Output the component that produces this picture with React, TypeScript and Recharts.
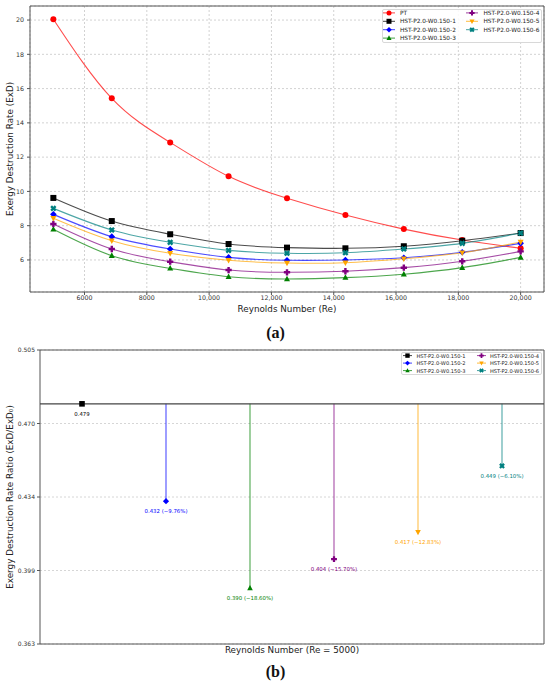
// Exergy destruction rate vs Reynolds number (a) and ratio stems at Re = 5000 (b)

import React from 'react';
import {
  LineChart,
  Line,
  ComposedChart,
  Bar,
  Scatter,
  LabelList,
  XAxis,
  YAxis,
  CartesianGrid,
  ReferenceArea,
  ReferenceLine,
  Label
} from 'recharts';

const FONT = '"DejaVu Sans", Verdana, sans-serif';

// ---- (a) data ----
const reynolds = [5000, 6875, 8750, 10625, 12500, 14375, 16250, 18125, 20000];
const ptExd = [20.05, 15.43, 12.86, 10.88, 9.6, 8.62, 7.8, 7.16, 6.68];
const hst1Exd = [9.62, 8.27, 7.5, 6.93, 6.72, 6.68, 6.8, 7.12, 7.57];
const hst2Exd = [8.66, 7.36, 6.64, 6.15, 5.98, 6.0, 6.13, 6.45, 6.97];
const hst3Exd = [7.79, 6.25, 5.51, 5.02, 4.89, 4.97, 5.17, 5.55, 6.15];
const hst4Exd = [8.1, 6.64, 5.9, 5.41, 5.28, 5.34, 5.55, 5.92, 6.5];
const hst5Exd = [8.43, 7.12, 6.39, 5.98, 5.82, 5.84, 6.07, 6.42, 7.05];
const hst6Exd = [9.01, 7.75, 7.03, 6.56, 6.39, 6.42, 6.64, 6.97, 7.57];

const reTicks = [6000, 8000, 10000, 12000, 14000, 16000, 18000, 20000];
const exdTicks = [6, 8, 10, 12, 14, 16, 18, 20];
const RE_DOMAIN: [number, number] = [4250, 20750];
const EXD_DOMAIN: [number, number] = [4.13, 20.82];

// ---- (b) data ----
const designNames = [
  'HST-P2.0-W0.150-1',
  'HST-P2.0-W0.150-2',
  'HST-P2.0-W0.150-3',
  'HST-P2.0-W0.150-4',
  'HST-P2.0-W0.150-5',
  'HST-P2.0-W0.150-6'
];
const designPos = [1, 2, 3, 4, 5, 6];
const ratioValues = [0.479, 0.432, 0.39, 0.404, 0.417, 0.449];
const ratioChange = [null, -9.76, -18.6, -15.7, -12.83, -6.1];
const baselineRatio = 0.479;
const ratioTicks = [0.363, 0.3985, 0.434, 0.4695, 0.505];
const ratioTickLabels = ['0.363', '0.399', '0.434', '0.470', '0.505'];
const RATIO_DOMAIN: [number, number] = [0.363, 0.505];

type MarkerKind = 'circle' | 'square' | 'diamond' | 'tri' | 'plus' | 'tridown' | 'x';

interface SeriesDef {
  key: string;
  name: string;
  color: string;
  marker: MarkerKind;
}

const SERIES: SeriesDef[] = [
  { key: 'pt', name: 'PT', color: '#ff0000', marker: 'circle' },
  { key: 'h1', name: designNames[0], color: '#000000', marker: 'square' },
  { key: 'h2', name: designNames[1], color: '#0000ff', marker: 'diamond' },
  { key: 'h3', name: designNames[2], color: '#008000', marker: 'tri' },
  { key: 'h4', name: designNames[3], color: '#800080', marker: 'plus' },
  { key: 'h5', name: designNames[4], color: '#ffa500', marker: 'tridown' },
  { key: 'h6', name: designNames[5], color: '#008080', marker: 'x' }
];

const exdRows = reynolds.map((re, i) => ({
  re,
  pt: ptExd[i],
  h1: hst1Exd[i],
  h2: hst2Exd[i],
  h3: hst3Exd[i],
  h4: hst4Exd[i],
  h5: hst5Exd[i],
  h6: hst6Exd[i]
}));

const ratioRows = designPos.map((pos, i) => ({
  pos,
  ratio: ratioValues[i],
  stem: [ratioValues[i], baselineRatio]
}));

function markerShape(kind: MarkerKind, x: number, y: number, s: number, color: string) {
  const h = s / 2;
  switch (kind) {
    case 'circle':
      return <circle cx={x} cy={y} r={h} fill={color} />;
    case 'square':
      return <rect x={x - h} y={y - h} width={s} height={s} fill={color} />;
    case 'diamond': {
      const d = h * 1.1;
      return <polygon points={`${x},${y - d} ${x + d},${y} ${x},${y + d} ${x - d},${y}`} fill={color} />;
    }
    case 'tri':
      return <polygon points={`${x},${y - h * 1.1} ${x + h},${y + h * 0.75} ${x - h},${y + h * 0.75}`} fill={color} />;
    case 'tridown':
      return <polygon points={`${x},${y + h * 1.1} ${x + h},${y - h * 0.75} ${x - h},${y - h * 0.75}`} fill={color} />;
    case 'plus':
    case 'x': {
      const a = h * 1.05;
      const t = a / 2.6;
      const pts = [
        [-t, -a], [t, -a], [t, -t], [a, -t], [a, t], [t, t],
        [t, a], [-t, a], [-t, t], [-a, t], [-a, -t], [-t, -t]
      ];
      const rot = kind === 'x' ? Math.PI / 4 : 0;
      const str = pts
        .map(([px, py]) => {
          const rx = px * Math.cos(rot) - py * Math.sin(rot);
          const ry = px * Math.sin(rot) + py * Math.cos(rot);
          return `${x + rx},${y + ry}`;
        })
        .join(' ');
      return <polygon points={str} fill={color} />;
    }
  }
  return null;
}

interface LegendProps {
  entries: SeriesDef[];
  left: number;
  top: number;
  width: number;
  height: number;
  rows: number;
  rowStart: number;
  rowGap: number;
  colHandle: number[];
  colText: number[];
  fontSize: number;
  markerSize: number;
  handleLen: number;
}

function BoxLegend(p: LegendProps) {
  return (
    <div
      style={{
        position: 'absolute',
        left: p.left,
        top: p.top,
        width: p.width,
        height: p.height,
        border: '1px solid #d8d8d8',
        borderRadius: 2,
        background: 'rgba(255,255,255,0.85)',
        boxSizing: 'border-box'
      }}
    >
      <svg width={p.width} height={p.height} style={{ position: 'absolute', left: -1, top: -1, overflow: 'visible' }}>
        {p.entries.map((e, i) => {
          const col = Math.floor(i / p.rows);
          const row = i % p.rows;
          const cx = p.colHandle[col];
          const cy = p.rowStart + row * p.rowGap;
          return (
            <g key={e.key}>
              <line x1={cx - p.handleLen / 2} x2={cx + p.handleLen / 2} y1={cy} y2={cy} stroke={e.color} strokeOpacity={0.75} strokeWidth={1} />
              {markerShape(e.marker, cx, cy, p.markerSize, e.color)}
              <text x={p.colText[col]} y={cy} dominantBaseline="central" fontSize={p.fontSize} fontFamily={FONT} fill="#222">
                {e.name}
              </text>
            </g>
          );
        })}
      </svg>
    </div>
  );
}

const tickStyle = { fontSize: 6.3, fill: '#333', fontFamily: FONT };

function formatRe(v: number): string {
  return v < 10000 ? String(v) : v.toLocaleString('en-US');
}

function rotatedLabel(text: string, x: number) {
  return (props: any) => {
    const vb = props.viewBox || {};
    const cy = vb.y + vb.height / 2;
    return (
      <text
        x={x}
        y={cy}
        transform={`rotate(-90 ${x} ${cy})`}
        textAnchor="middle"
        dominantBaseline="central"
        fontSize={8.8}
        fontFamily={FONT}
        fill="#222"
      >
        {text}
      </text>
    );
  };
}

function bottomLabel(text: string, dy: number) {
  return (props: any) => {
    const vb = props.viewBox || {};
    return (
      <text
        x={vb.x + vb.width / 2}
        y={vb.y + dy}
        textAnchor="middle"
        dominantBaseline="central"
        fontSize={8.8}
        fontFamily={FONT}
        fill="#222"
      >
        {text}
      </text>
    );
  };
}

function ExdChart() {
  return (
    <LineChart width={550} height={320} data={exdRows} margin={{ top: 6, right: 6, left: 0, bottom: 0 }}>
      <CartesianGrid strokeDasharray="2 2" stroke="#d2d2d2" />
      <XAxis
        dataKey="re"
        type="number"
        domain={RE_DOMAIN}
        ticks={reTicks}
        allowDataOverflow
        tickFormatter={formatRe}
        tick={tickStyle}
        tickSize={3}
        tickMargin={1}
        height={28}
        axisLine={false}
        tickLine={{ stroke: '#555' }}
      >
        <Label content={bottomLabel('Reynolds Number (Re)', 17)} />
      </XAxis>
      <YAxis
        type="number"
        domain={EXD_DOMAIN}
        ticks={exdTicks}
        allowDataOverflow
        tick={tickStyle}
        tickSize={3}
        tickMargin={3}
        width={30}
        axisLine={false}
        tickLine={{ stroke: '#555' }}
      >
        <Label content={rotatedLabel('Exergy Destruction Rate (ExD)', 10)} />
      </YAxis>
      {SERIES.map((s) => (
        <Line
          key={s.key}
          dataKey={s.key}
          name={s.name}
          type="natural"
          stroke={s.color}
          strokeOpacity={0.7}
          strokeWidth={1.1}
          isAnimationActive={false}
          activeDot={false}
          dot={(p: any) => (
            <g key={`${s.key}-${p.index}`}>{markerShape(s.marker, p.cx, p.cy, 6, s.color)}</g>
          )}
        />
      ))}
      <ReferenceArea
        x1={RE_DOMAIN[0]}
        x2={RE_DOMAIN[1]}
        y1={EXD_DOMAIN[0]}
        y2={EXD_DOMAIN[1]}
        fill="none"
        fillOpacity={0}
        stroke="#555"
        strokeWidth={1}
        ifOverflow="visible"
      />
    </LineChart>
  );
}

function RatioChart() {
  const hst = SERIES.slice(1);
  return (
    <ComposedChart width={550} height={357} data={ratioRows} margin={{ top: 20, right: 6, left: 0, bottom: 0 }}>
      <CartesianGrid strokeDasharray="2 2" stroke="#d6d6d6" vertical={false} />
      <XAxis
        dataKey="pos"
        type="number"
        domain={[0.5, 6.5]}
        ticks={designPos}
        allowDataOverflow
        tick={false}
        tickLine={false}
        axisLine={false}
        height={43}
      >
        <Label content={bottomLabel('Reynolds Number (Re = 5000)', 6)} />
      </XAxis>
      <YAxis
        type="number"
        domain={RATIO_DOMAIN}
        ticks={ratioTicks}
        allowDataOverflow
        tickFormatter={(_v: number, i: number) => ratioTickLabels[i]}
        tick={{ ...tickStyle, fontSize: 6 }}
        tickSize={3}
        tickMargin={2}
        width={40}
        axisLine={false}
        tickLine={{ stroke: '#555' }}
      >
        <Label content={rotatedLabel('Exergy Destruction Rate Ratio (ExD/ExD\u2080)', 10)} />
      </YAxis>
      <ReferenceLine y={baselineRatio} stroke="#444" strokeWidth={1.1} />
      {/* stems: range bars from each ratio up to the baseline, drawn as thin lines */}
      <Bar
        dataKey="stem"
        barSize={2}
        isAnimationActive={false}
        shape={(p: any) => {
          const i = p.index;
          const s = hst[i];
          const x = p.x + p.width / 2;
          return (
            <line
              x1={x}
              x2={x}
              y1={p.y}
              y2={p.y + p.height}
              stroke={s.color}
              strokeOpacity={0.7}
              strokeWidth={1.1}
            />
          );
        }}
      />
      <Scatter
        dataKey="ratio"
        isAnimationActive={false}
        shape={(p: any) => {
          const s = hst[p.payload.pos - 1];
          return <g>{markerShape(s.marker, p.cx, p.cy, 5.6, s.color)}</g>;
        }}
      >
        <LabelList
          dataKey="ratio"
          content={(p: any) => {
            const i = p.index;
            const s = hst[i];
            const cx = p.x + p.width / 2;
            const cy = p.y + p.height / 2;
            const ch = ratioChange[i];
            const txt =
              ch === null
                ? ratioValues[i].toFixed(3)
                : `${ratioValues[i].toFixed(3)} (\u2212${Math.abs(ch).toFixed(2)}%)`;
            return (
              <text
                key={`lbl-${i}`}
                x={cx}
                y={cy + 10}
                textAnchor="middle"
                dominantBaseline="central"
                fontSize={5.4}
                fontFamily={FONT}
                fill={s.color}
              >
                {txt}
              </text>
            );
          }}
        />
      </Scatter>
      <ReferenceArea
        x1={0.5}
        x2={6.5}
        y1={RATIO_DOMAIN[0]}
        y2={RATIO_DOMAIN[1]}
        fill="none"
        fillOpacity={0}
        stroke="#555"
        strokeWidth={1}
        ifOverflow="visible"
      />
    </ComposedChart>
  );
}

const captionStyle: React.CSSProperties = {
  position: 'absolute',
  left: 0,
  width: 551,
  textAlign: 'center',
  fontFamily: '"Liberation Serif", "DejaVu Serif", serif',
  fontWeight: 'bold',
  fontSize: 16,
  lineHeight: '16px',
  color: '#111'
};

export default function App() {
  return (
    <div
      style={{
        position: 'absolute',
        left: 0,
        top: 0,
        width: 550,
        height: 687,
        background: '#fff',
        overflow: 'hidden',
        fontFamily: FONT
      }}
    >
      <div style={{ position: 'absolute', left: 0, top: 0 }}>
        <ExdChart />
      </div>
      <BoxLegend
        entries={SERIES}
        left={382}
        top={9}
        width={160}
        height={34}
        rows={4}
        rowStart={3.9}
        rowGap={8.4}
        colHandle={[7, 90]}
        colText={[18, 101.5]}
        fontSize={5.8}
        markerSize={5}
        handleLen={12}
      />
      <div style={{ ...captionStyle, top: 325 }}>(a)</div>

      <div style={{ position: 'absolute', left: 0, top: 330 }}>
        <RatioChart />
      </div>
      <BoxLegend
        entries={SERIES.slice(1)}
        left={401}
        top={352}
        width={141}
        height={23}
        rows={3}
        rowStart={3.6}
        rowGap={7.5}
        colHandle={[6.5, 80.5]}
        colText={[15.5, 89]}
        fontSize={5.1}
        markerSize={4.4}
        handleLen={9}
      />
      <div style={{ ...captionStyle, top: 664 }}>(b)</div>
    </div>
  );
}
